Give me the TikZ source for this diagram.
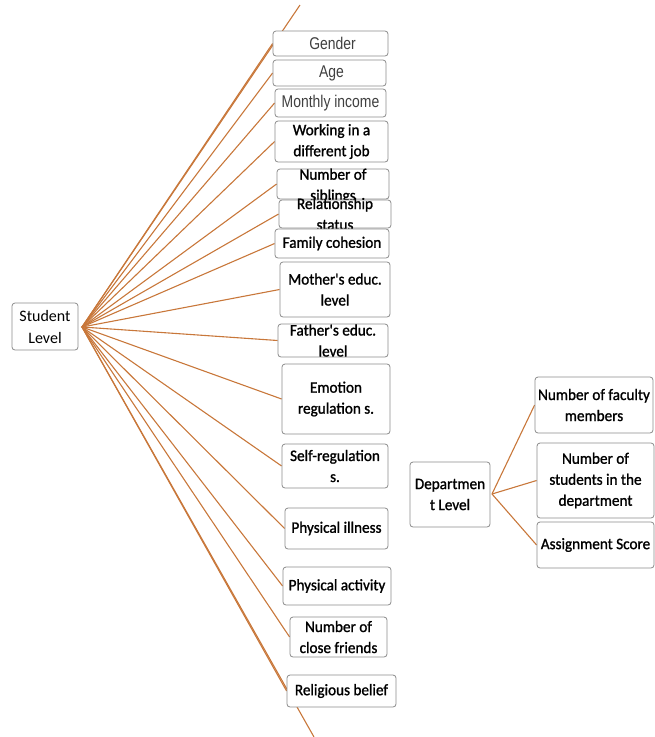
\documentclass[tikz,border=0pt]{standalone}
\usepackage{fontspec}
\setmainfont{Carlito}
\newfontfamily\boxfont[FakeBold=1.2, FakeStretch=0.95]{Carlito}
\newfontfamily\narrowfont[FakeStretch=0.82]{Liberation Sans}
\usetikzlibrary{backgrounds}
\definecolor{branchcol}{HTML}{C8773A}
\definecolor{framecol}{HTML}{8C8C8C}
\tikzset{
  box/.style={draw=framecol, fill=white, rounded corners=3pt, line width=0.8pt, inner sep=0pt},
  lbl/.style={align=center, font=\boxfont\fontsize{16}{21}\selectfont, inner sep=0pt},
  thinlbl/.style={font=\narrowfont\fontsize{17}{20}\selectfont, text=black!75, inner sep=0pt},
  link/.style={draw=branchcol, line width=1.1pt}
}
\begin{document}
\begin{tikzpicture}[x=1pt, y=-1pt]
    \useasboundingbox (0,0) rectangle (655,737);

    % Student level
    \node[box, minimum width=66pt, minimum height=47pt] (student) at (45,326.5) {};
    \node[lbl, font=\fontsize{16}{22}\selectfont] at (student) {Student\\Level};
    \coordinate (shub) at (82,327);

    % Student level factors
    \node[box, minimum width=115pt, minimum height=25pt] (gender) at (330.5,43.5) {};
    \node[thinlbl] at ([xshift=2pt]gender) {Gender};
    \node[box, minimum width=113pt, minimum height=26pt] (age) at (329.5,73) {};
    \node[thinlbl] at ([xshift=2pt]age) {Age};
    \node[box, minimum width=111pt, minimum height=28pt] (income) at (330.5,103) {};
    \node[thinlbl] at (income) {Monthly income};
    \node[box, minimum width=113pt, minimum height=41pt] (job) at (331.5,141.5) {};
    \node[lbl] at (job) {Working in a\\different job};
    \node[box, minimum width=112pt, minimum height=30pt] (siblings) at (333,184) {};
    \node[lbl] at ([yshift=-2pt]siblings) {Number of\\siblings};
    \node[box, minimum width=112pt, minimum height=28pt] (relation) at (335,214) {};
    \node[lbl] at (relation) {Relationship\\status};
    \node[box, minimum width=114pt, minimum height=29pt] (cohesion) at (332,243.5) {};
    \node[lbl] at (cohesion) {Family cohesion};
    \node[box, minimum width=110pt, minimum height=55pt] (mother) at (335,289.5) {};
    \node[lbl] at (mother) {Mother's educ.\\level};
    \node[box, minimum width=110pt, minimum height=33pt] (father) at (333,340.5) {};
    \node[lbl] at (father) {Father's educ.\\level};
    \node[box, minimum width=108pt, minimum height=70pt] (emotion) at (336,399) {};
    \node[lbl] at (emotion) {Emotion\\regulation s.};
    \node[box, minimum width=106pt, minimum height=44pt] (selfreg) at (335,466) {};
    \node[lbl] at (selfreg) {Self-regulation\\s.};
    \node[box, minimum width=103pt, minimum height=41pt] (illness) at (336.5,528.5) {};
    \node[lbl] at (illness) {Physical illness};
    \node[box, minimum width=108pt, minimum height=38pt] (activity) at (337,586) {};
    \node[lbl] at (activity) {Physical activity};
    \node[box, minimum width=97pt, minimum height=40pt] (friends) at (338.5,637) {};
    \node[lbl] at (friends) {Number of\\close friends};
    \node[box, minimum width=109pt, minimum height=32pt] (religion) at (341.5,691) {};
    \node[lbl] at (religion) {Religious belief};

    % Loose branch ends
    \coordinate (topend) at (300,5);
    \coordinate (bottomend) at (314,737);

    % Department level
    \node[box, minimum width=80pt, minimum height=65pt] (dept) at (450,494.5) {};
    \node[lbl] at (dept) {Departmen\\t Level};
    \coordinate (dhub) at (492,494);

    % Department level factors
    \node[box, minimum width=118pt, minimum height=56pt] (faculty) at (594,405) {};
    \node[lbl] at (faculty) {Number of faculty\\members};
    \node[box, minimum width=117pt, minimum height=75pt] (students) at (595.5,480.5) {};
    \node[lbl] at (students) {Number of\\students in the\\department};
    \node[box, minimum width=117pt, minimum height=46pt] (score) at (595.5,545) {};
    \node[lbl] at (score) {Assignment Score};

    % Draw the branches behind the boxes
    \begin{scope}[on background layer]
        \foreach \target in {topend, gender.west, age.west, income.west, job.west,
                siblings.west, relation.west, cohesion.west, mother.west, father.west,
                emotion.west, selfreg.west, illness.west, activity.west, friends.west,
                religion.west, bottomend}
            \draw[link] (shub) -- (\target);
        \foreach \target in {faculty, students, score}
            \draw[link] (dhub) -- (\target.west);
    \end{scope}
\end{tikzpicture}
\end{document}
